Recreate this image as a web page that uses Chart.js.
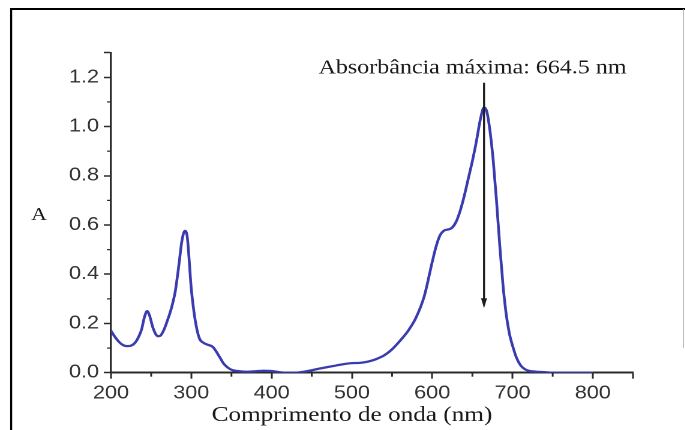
<!DOCTYPE html>
<html>
<head>
<meta charset="utf-8">
<script src="https://cdn.jsdelivr.net/npm/chart.js@4.4.1/dist/chart.umd.min.js"></script>
<style>
html,body{margin:0;padding:0;background:#fff;overflow:hidden;}
#wrap{width:571px;height:430px;transform:scaleX(1.2);transform-origin:0 0;}
</style>
</head>
<body>
<div id="wrap"><canvas id="c" width="571" height="430"></canvas></div>
<script>
// ---- data ----
const wavelengths = [200,205,210,215,220,225,230,235,238,242,245,248,252,256,259,262,266,270,275,280,285,288,292,295,300,305,310,315,320,327,335,340,345,350,360,370,380,390,400,410,420,430,440,450,460,470,480,490,500,510,520,530,540,550,560,570,580,590,600,605,610,615,620,625,630,635,640,645,650,655,660,664.5,668,672,676,680,684,688,692,696,700,705,710,715,720,730,740,750,800];
const absorbance = [0.17,0.145,0.125,0.112,0.108,0.11,0.122,0.15,0.175,0.23,0.25,0.232,0.185,0.155,0.148,0.152,0.175,0.21,0.26,0.33,0.45,0.53,0.576,0.55,0.34,0.21,0.14,0.122,0.114,0.104,0.065,0.038,0.022,0.012,0.006,0.004,0.006,0.008,0.007,0.002,0.0,0.0,0.004,0.01,0.017,0.023,0.029,0.035,0.039,0.04,0.045,0.055,0.07,0.095,0.13,0.17,0.225,0.31,0.45,0.515,0.56,0.578,0.582,0.59,0.615,0.66,0.72,0.79,0.86,0.94,1.03,1.078,1.06,0.98,0.86,0.70,0.52,0.36,0.24,0.16,0.11,0.06,0.03,0.015,0.008,0.004,0.002,0.0,0.0];
const xMajorTicks = [200,300,400,500,600,700,800];
const xMinorTicks = [250,350,450,550,650,750];
const yMajorTicks = [0,0.2,0.4,0.6,0.8,1.0,1.2];
const yMinorTicks = [0.1,0.3,0.5,0.7,0.9,1.1];
const xTitle = 'Comprimento de onda (nm)';
const yTitle = 'A';
const peakWavelength = 664.5;
const peakLabel = 'Absorbância máxima: 664.5 nm';
const arrowTopValue = 1.178;
const arrowTipValue = 0.262;
const X_MIN = 200, X_MAX = 850, Y_MIN = 0, Y_MAX = 1.3;

const SX = 1.2; // horizontal stretch of the reference picture
const axisColor = '#2b2b2b';
const tickLabelColor = '#333333';

const decorPlugin = {
  id: 'decor',
  afterDraw(chart) {
    const ctx = chart.ctx;
    const xs = chart.scales.x, ys = chart.scales.y;
    ctx.save();
    // frame
    ctx.strokeStyle = '#000';
    ctx.lineWidth = 2;
    ctx.beginPath();
    ctx.moveTo(8.5, 9); ctx.lineTo(571, 9);
    ctx.stroke();
    ctx.lineWidth = 2 / SX;
    ctx.beginPath();
    ctx.moveTo(9.3, 8); ctx.lineTo(9.3, 430);
    ctx.stroke();
    ctx.strokeStyle = '#b0b0b0';
    ctx.lineWidth = 1 / SX;
    ctx.beginPath();
    ctx.moveTo(569.5, 9); ctx.lineTo(569.5, 348);
    ctx.stroke();

    // minor ticks
    ctx.strokeStyle = axisColor;
    ctx.lineWidth = 1.5;
    xMinorTicks.forEach(v => {
      const px = xs.getPixelForValue(v);
      ctx.beginPath(); ctx.moveTo(px, xs.top); ctx.lineTo(px, xs.top + 4); ctx.stroke();
    });
    ctx.lineWidth = 1.5 / SX;
    yMinorTicks.forEach(v => {
      const py = ys.getPixelForValue(v);
      ctx.beginPath(); ctx.moveTo(ys.right, py); ctx.lineTo(ys.right - 4 / SX, py); ctx.stroke();
    });

    // arrow
    const ax = xs.getPixelForValue(peakWavelength);
    const aTop = ys.getPixelForValue(arrowTopValue);
    const aTip = ys.getPixelForValue(arrowTipValue);
    ctx.strokeStyle = '#1e1e1e';
    ctx.fillStyle = '#1e1e1e';
    ctx.lineWidth = 2 / SX;
    ctx.beginPath(); ctx.moveTo(ax, aTop); ctx.lineTo(ax, aTip - 6); ctx.stroke();
    ctx.beginPath();
    ctx.moveTo(ax - 3 / SX, aTip - 10);
    ctx.lineTo(ax + 3 / SX, aTip - 10);
    ctx.lineTo(ax, aTip);
    ctx.closePath();
    ctx.fill();

    // annotation text
    ctx.fillStyle = '#1a1a1a';
    ctx.font = '20px "Liberation Serif", "Times New Roman", serif';
    ctx.textAlign = 'center';
    ctx.textBaseline = 'alphabetic';
    ctx.fillText(peakLabel, ax - 9.6, aTop - 9);

    // axis titles
    ctx.font = '21px "Liberation Serif", "Times New Roman", serif';
    ctx.fillText(xTitle, xs.getPixelForValue(500), 421);
    ctx.font = '18px "Liberation Serif", "Times New Roman", serif';
    ctx.fillText(yTitle, 32.5, 220);
    ctx.restore();
  }
};

new Chart(document.getElementById('c'), {
  type: 'line',
  data: {
    datasets: [{
      data: wavelengths.map((w, i) => ({x: w, y: absorbance[i]})),
      borderColor: '#3b3bb0',
      borderWidth: 2.3,
      pointRadius: 0,
      fill: false,
      cubicInterpolationMode: 'monotone'
    }]
  },
  options: {
    responsive: false,
    animation: false,
    devicePixelRatio: 2,
    layout: { padding: { left: 0, right: 43.5, top: 52.7, bottom: 0 } },
    plugins: { legend: { display: false }, tooltip: { enabled: false } },
    scales: {
      x: {
        type: 'linear',
        min: X_MIN, max: X_MAX,
        afterFit: s => { s.height = 57.3; },
        afterBuildTicks: s => { s.ticks = xMajorTicks.concat([X_MAX]).map(v => ({value: v})); },
        border: { display: true, color: axisColor, width: 2 },
        grid: { drawOnChartArea: false, drawTicks: true, tickLength: 6, tickWidth: 1.5, tickColor: axisColor },
        ticks: {
          autoSkip: false,
          maxRotation: 0,
          padding: 4,
          color: tickLabelColor,
          font: { family: '"Liberation Sans", Arial, sans-serif', size: 18 },
          callback: v => xMajorTicks.includes(v) ? String(v) : ''
        }
      },
      y: {
        type: 'linear',
        min: Y_MIN, max: Y_MAX,
        afterFit: s => { s.width = 92.5; },
        afterBuildTicks: s => { s.ticks = yMajorTicks.concat([Y_MAX]).map(v => ({value: v})); },
        border: { display: true, color: axisColor, width: 2 / SX },
        grid: { drawOnChartArea: false, drawTicks: true, tickLength: 6, tickWidth: 1.5, tickColor: axisColor },
        ticks: {
          autoSkip: false,
          padding: 4,
          color: tickLabelColor,
          font: { family: '"Liberation Sans", Arial, sans-serif', size: 18 },
          callback: v => yMajorTicks.some(t => Math.abs(t - v) < 1e-6) ? v.toFixed(1) : ''
        }
      }
    }
  },
  plugins: [decorPlugin]
});
</script>
</body>
</html>
